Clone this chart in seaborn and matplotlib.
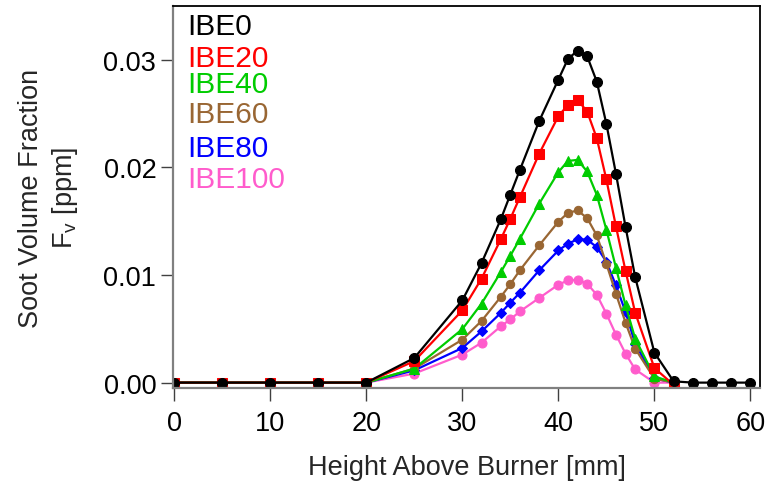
import matplotlib
matplotlib.use("Agg")
import matplotlib.pyplot as plt
import seaborn as sns
import pandas as pd
import numpy as np

# ---- data ----
x_black = [0, 5, 10, 15, 20, 25, 30, 32, 34, 35, 36, 38, 40, 41, 42, 43, 44, 45, 46, 47, 48, 50, 52, 54, 56, 58, 60]
ibe0 = [0, 0, 0, 0, 0, 0.00229, 0.00764, 0.01111, 0.01516, 0.01748, 0.01978, 0.0243, 0.02816, 0.03008,
        0.03085, 0.03033, 0.02798, 0.02405, 0.01941, 0.01446, 0.00981, 0.00279, 0.00012, 0, 0, 0, 0]

x_other = [0, 5, 10, 15, 20, 25, 30, 32, 34, 35, 36, 38, 40, 41, 42, 43, 44, 45, 46, 47, 48, 50, 52]
ibe20 = [0, 0, 0, 0, 0, 0.0020, 0.00671, 0.00966, 0.01331, 0.01523, 0.01724, 0.02126, 0.02476, 0.02581,
         0.02628, 0.02519, 0.02272, 0.01888, 0.01451, 0.01037, 0.0065, 0.00136, -0.0002]
ibe40 = [0, 0, 0, 0, 0, 0.0013, 0.00497, 0.00734, 0.01026, 0.01179, 0.01337, 0.01662, 0.01956, 0.0206,
         0.0207, 0.01962, 0.01746, 0.01421, 0.01068, 0.00718, 0.00409, 0.00058, 0]
ibe60 = [0, 0, 0, 0, 0, 0.0013, 0.00399, 0.00573, 0.00796, 0.00915, 0.01045, 0.01275, 0.01495, 0.01578,
         0.0160, 0.01529, 0.01368, 0.01105, 0.00826, 0.00557, 0.00316, 0.00037, 0]
ibe80 = [0, 0, 0, 0, 0, 0.00114, 0.00322, 0.00476, 0.00647, 0.00743, 0.00836, 0.01043, 0.01228, 0.01291,
         0.01332, 0.01328, 0.0126, 0.01124, 0.00903, 0.00656, 0.00362, 0.0004, 0]
ibe100 = [0, 0, 0, 0, 0, 0.00084, 0.0026, 0.00371, 0.00523, 0.00588, 0.00662, 0.00786, 0.0091, 0.0095,
          0.00956, 0.00919, 0.00817, 0.00641, 0.00446, 0.00269, 0.00123, 0, 0]

labels = ["IBE0", "IBE20", "IBE40", "IBE60", "IBE80", "IBE100"]
colors = ["#000000", "#ff0000", "#00cc00", "#996633", "#0000ff", "#ff5ccc"]
markers = ["o", "s", "^", "o", "D", "o"]
msizes = [7.2, 7, 7.5, 6, 5, 6.5]
xs = [x_black, x_other, x_other, x_other, x_other, x_other]
ys = [ibe0, ibe20, ibe40, ibe60, ibe80, ibe100]

x_ticks = [0, 10, 20, 30, 40, 50, 60]
y_ticks = [0.00, 0.01, 0.02, 0.03]

# ---- style ----
sns.set_style("ticks")
plt.rcParams["font.family"] = ["Liberation Sans", "DejaVu Sans"]
plt.rcParams["mathtext.fontset"] = "custom"
plt.rcParams["mathtext.rm"] = "Liberation Sans"

fig = plt.figure(figsize=(7.66, 4.85), dpi=100)
ax = fig.add_axes([173 / 766, 1 - 389 / 485, (760 - 173) / 766, (389 - 7) / 485])

for i in reversed(range(6)):
    df = pd.DataFrame({"x": xs[i], "y": ys[i]})
    sns.lineplot(data=df, x="x", y="y", ax=ax, color=colors[i], marker=markers[i],
                 markersize=msizes[i], markeredgecolor=colors[i], linewidth=1.6,
                 sort=False, legend=False)

ax.set_xlim(-0.13, 61.0)
ax.set_ylim(-0.0005, 0.035)
ax.set_xticks(x_ticks)
ax.set_xticklabels([str(t) for t in x_ticks])
ax.set_yticks(y_ticks)
ax.set_yticklabels([f"{t:.2f}" for t in y_ticks])

for side in ["left", "bottom"]:
    ax.spines[side].set_color("#808080")
    ax.spines[side].set_linewidth(1.6)
for side in ["top", "right"]:
    ax.spines[side].set_visible(True)
    ax.spines[side].set_color("black")
    ax.spines[side].set_linewidth(1.3)

ax.tick_params(axis="both", direction="out", length=9, width=1.0, color="#404040",
               labelsize=19.5, labelcolor="black")
ax.tick_params(axis="x", pad=7)
ax.tick_params(axis="y", pad=3)

ax.set_xlabel("Height Above Burner [mm]", fontsize=19.5, labelpad=13)
ax.set_ylabel("Soot Volume Fraction\nF$_\\mathregular{v}$ [ppm]", fontsize=19.5,
              labelpad=17, linespacing=1.25)

# legend as coloured text lines
baselines = [35, 66.7, 93.3, 123.3, 156.7, 188.3]
for lab, col, yb in zip(labels, colors, baselines):
    fig.text(187 / 766, 1 - yb / 485, lab, color=col, fontsize=21.5, va="baseline", ha="left")

fig.savefig("out.png", dpi=100)
